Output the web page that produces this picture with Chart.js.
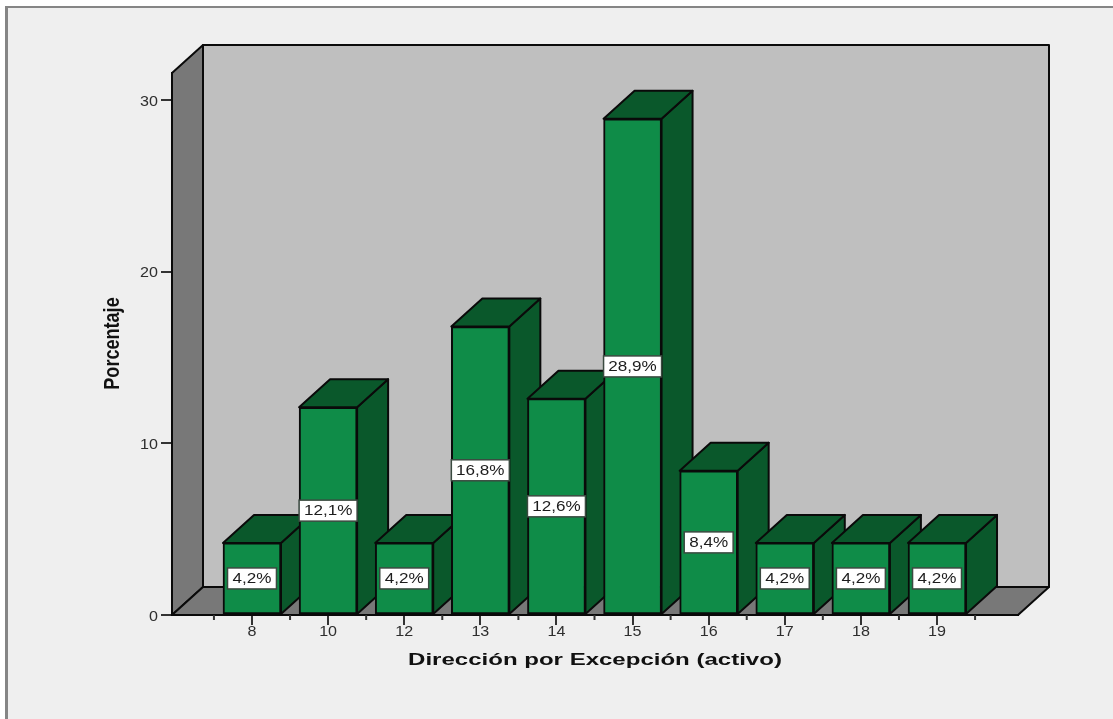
<!DOCTYPE html>
<html>
<head>
<meta charset="utf-8">
<title>Dirección por Excepción (activo)</title>
<script src="https://cdn.jsdelivr.net/npm/chart.js@4/dist/chart.umd.js"></script>
<style>
    html, body { margin: 0; padding: 0; background: #fff; overflow: hidden; }
    .frame {
        position: absolute; left: 5px; top: 6px; right: 0; bottom: 0;
        background: #efefef;
        border-left: 3px solid #858585;
        border-top: 2px solid #858585;
    }
    canvas { position: absolute; left: 0; top: 0; }
</style>
</head>
<body>
<div class="frame"></div>
<canvas id="chart" width="1113" height="719"></canvas>
<script>
const categories = ['8', '10', '12', '13', '14', '15', '16', '17', '18', '19'];
const percentages = [4.2, 12.1, 4.2, 16.8, 12.6, 28.9, 8.4, 4.2, 4.2, 4.2];
const yTicks = [0, 10, 20, 30];
const xTitle = 'Dirección por Excepción (activo)';
const yTitle = 'Porcentaje';

const DEPTH_X = 31;
const DEPTH_Y = -28;
const LINE = '#0a0a0a';
const LABEL_FONT = '14px "Liberation Sans"';
const LABEL_STRETCH = 1.22;

function polygon(ctx, points, fill) {
    ctx.beginPath();
    points.forEach(([x, y], i) => i ? ctx.lineTo(x, y) : ctx.moveTo(x, y));
    ctx.closePath();
    ctx.fillStyle = fill;
    ctx.fill();
    ctx.lineWidth = 2;
    ctx.strokeStyle = LINE;
    ctx.lineJoin = 'round';
    ctx.stroke();
}

// text widened (or narrowed) along its own baseline, optionally rotated
function wideText(ctx, text, x, y, stretch, opts = {}) {
    ctx.save();
    ctx.translate(x, y);
    if (opts.rotate) ctx.rotate(opts.rotate);
    ctx.scale(stretch, 1);
    ctx.font = opts.font || LABEL_FONT;
    ctx.fillStyle = opts.color || '#2e2e2e';
    ctx.textAlign = opts.align || 'center';
    ctx.textBaseline = 'middle';
    ctx.fillText(text, 0, 0);
    ctx.restore();
}

// bar that paints its top and right faces before the front, so the next bar overlaps it
class Bar3d extends Chart.BarElement {
    static id = 'bar3d';
    draw(ctx) {
        const { x, y, base, width } = this.getProps(['x', 'y', 'base', 'width']);
        const l = x - width / 2, r = x + width / 2;
        ctx.save();
        polygon(ctx, [[r, y], [r + DEPTH_X, y + DEPTH_Y], [r + DEPTH_X, base + DEPTH_Y], [r, base]], '#0a582b');
        polygon(ctx, [[l, y], [l + DEPTH_X, y + DEPTH_Y], [r + DEPTH_X, y + DEPTH_Y], [r, y]], '#0a582b');
        ctx.restore();
        super.draw(ctx);
    }
}

class Bar3dController extends Chart.BarController {
    static id = 'bar3d';
    static defaults = { dataElementType: 'bar3d' };
}

Chart.register(Bar3d, Bar3dController);

const walls = {
    id: 'walls',
    beforeDatasetsDraw(chart) {
        const { ctx, chartArea: { left, right, top, bottom } } = chart;
        const dx = DEPTH_X, dy = DEPTH_Y;
        ctx.save();
        polygon(ctx, [[left + dx, top + dy], [right + dx, top + dy], [right + dx, bottom + dy], [left + dx, bottom + dy]], '#bfbfbf');
        polygon(ctx, [[left, top], [left + dx, top + dy], [left + dx, bottom + dy], [left, bottom]], '#787878');
        polygon(ctx, [[left, bottom], [left + dx, bottom + dy], [right + dx, bottom + dy], [right, bottom]], '#787878');
        ctx.restore();
    }
};

// short ticks between the categories
const minorTicks = {
    id: 'minorTicks',
    afterDatasetsDraw(chart) {
        const { ctx, scales: { x }, chartArea: { bottom } } = chart;
        ctx.save();
        ctx.strokeStyle = '#333';
        ctx.lineWidth = 2;
        for (let i = 0; i <= categories.length; i++) {
            const px = x.getPixelForValue(i - 0.5);
            ctx.beginPath();
            ctx.moveTo(px, bottom);
            ctx.lineTo(px, bottom + 5);
            ctx.stroke();
        }
        ctx.restore();
    }
};

// axis text, placed from the scales but widened like the rest of the lettering
const axisText = {
    id: 'axisText',
    afterDraw(chart) {
        const { ctx, scales: { x, y }, chartArea: { left, bottom } } = chart;
        x.ticks.forEach((t, i) => wideText(ctx, categories[t.value], x.getPixelForTick(i), bottom + 17, 1.15));
        y.ticks.forEach((t, i) => wideText(ctx, String(t.value), left - 14, y.getPixelForTick(i) + 2, 1.15, { align: 'right' }));
        wideText(ctx, xTitle, (x.left + x.right) / 2, 660, 1.456, { font: 'bold 16.5px "Liberation Sans"', color: '#111' });
        wideText(ctx, yTitle, 113, 343.5, 0.84, { font: 'bold 21.5px "Liberation Sans"', color: '#111', rotate: -Math.PI / 2 });
    }
};

const valueLabels = {
    id: 'valueLabels',
    afterDatasetsDraw(chart) {
        const { ctx } = chart;
        const meta = chart.getDatasetMeta(0);
        meta.data.forEach((bar, i) => {
            const text = percentages[i].toFixed(1).replace('.', ',') + '%';
            ctx.save();
            ctx.font = LABEL_FONT;
            const w = Math.min(ctx.measureText(text).width * LABEL_STRETCH + 10, bar.width);
            const cy = (bar.y + bar.base) / 2;
            ctx.fillStyle = '#fff';
            ctx.strokeStyle = '#3a4a40';
            ctx.lineWidth = 1.5;
            ctx.fillRect(bar.x - w / 2, cy - 10.5, w, 21);
            ctx.strokeRect(bar.x - w / 2, cy - 10.5, w, 21);
            ctx.restore();
            wideText(ctx, text, bar.x, cy + 1, LABEL_STRETCH, { color: '#1c1c1c' });
        });
    }
};

new Chart(document.getElementById('chart'), {
    type: 'bar3d',
    data: {
        datasets: [{
            data: categories.map((c, i) => ({ x: i, y: percentages[i] })),
            backgroundColor: '#0f8c48',
            borderColor: LINE,
            borderWidth: 2,
            borderSkipped: false,
            barThickness: 58
        }]
    },
    plugins: [walls, minorTicks, valueLabels, axisText],
    options: {
        responsive: false,
        animation: false,
        layout: { padding: { top: 73, right: 95, left: 0, bottom: 0 } },
        plugins: { legend: { display: false }, tooltip: { enabled: false } },
        scales: {
            x: {
                type: 'linear',
                offset: false,
                min: -1.051,
                max: 10.064,
                afterBuildTicks: scale => { scale.ticks = categories.map((c, i) => ({ value: i })); },
                afterFit: scale => { scale.height = 104; },
                grid: { offset: false, drawOnChartArea: false, tickLength: 10, color: '#333', lineWidth: 2 },
                border: { display: true, color: LINE, width: 2 },
                ticks: { display: false }
            },
            y: {
                min: 0,
                max: 31.57,
                afterBuildTicks: scale => { scale.ticks = yTicks.map(v => ({ value: v })); },
                afterFit: scale => { scale.width = 172; },
                grid: { drawOnChartArea: false, tickLength: 11, color: '#333', lineWidth: 2 },
                border: { display: true, color: LINE, width: 2 },
                ticks: { display: false }
            }
        }
    }
});
</script>
</body>
</html>
